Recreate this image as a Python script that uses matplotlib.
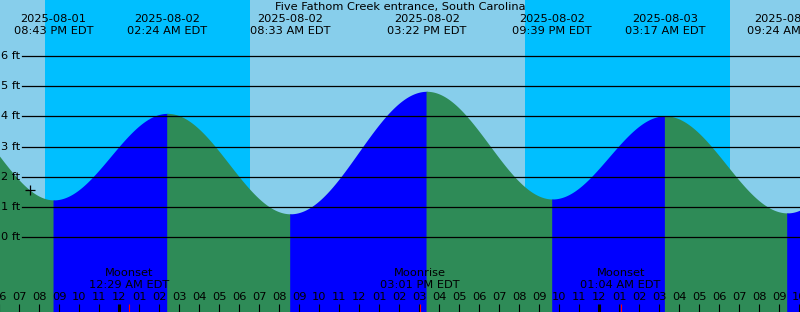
import matplotlib
matplotlib.use('Agg')
import matplotlib.pyplot as plt
import matplotlib.transforms as mtransforms
import numpy as np

# times are hours from 2025-08-02 00:00 EDT, heights in ft
tide_times = [-9.0, -3.283, 2.4, 8.55, 15.367, 21.65, 27.283, 33.4, 39.8]
tide_heights = [4.4, 1.24, 4.1, 0.78, 4.83, 1.27, 4.02, 0.81, 4.7]

event_times = [-3.283, 2.4, 8.55, 15.367, 21.65, 27.283, 33.4]
event_dates = ['2025-08-01', '2025-08-02', '2025-08-02', '2025-08-02',
               '2025-08-02', '2025-08-03', '2025-08-03']
event_clock = ['08:43 PM EDT', '02:24 AM EDT', '08:33 AM EDT', '03:22 PM EDT',
               '09:39 PM EDT', '03:17 AM EDT', '09:24 AM EDT']

# night = sunset -> sunrise
night_start = [-3.72, 20.28]
night_end = [6.53, 30.53]

moon_times = [0.483, 15.017, 25.067]
moon_names = ['Moonset', 'Moonrise', 'Moonset']
moon_clock = ['12:29 AM EDT', '03:01 PM EDT', '01:04 AM EDT']

hour_ticks = list(range(-6, 35))
ft_levels = [0, 1, 2, 3, 4, 5, 6]
now_time, now_height = -4.465, 1.57

title = 'Five Fathom Creek entrance, South Carolina'

W, H = 800, 312
x0, x1 = -5.965, 34.035
y0, y1 = -2.466, 7.848

fig = plt.figure(figsize=(W / 100, H / 100), dpi=100, facecolor='#87CEEB')
ax = fig.add_axes([0, 0, 1, 1])
ax.set_xlim(x0, x1)
ax.set_ylim(y0, y1)
ax.set_axis_off()

for a, b in zip(night_start, night_end):
    ax.axvspan(a, b, color='#00BFFF', lw=0, zorder=0)

# tide curve, half cosine between each high and low
# (each piece overlaps its neighbour by ~1px so no seam shows)
for i in range(len(tide_times) - 1):
    ta, tb = tide_times[i], tide_times[i + 1]
    ha, hb = tide_heights[i], tide_heights[i + 1]
    t = np.linspace(ta - 0.03, tb + 0.03, 300)
    ph = np.clip((t - ta) / (tb - ta), 0, 1)
    h = hb + (ha - hb) * (1 + np.cos(np.pi * ph)) / 2
    col = '#0000FF' if hb > ha else '#2E8B57'
    ax.fill_between(t, y0, h, color=col, lw=0, antialiased=False, zorder=1)

for lv in ft_levels:
    ax.axhline(lv, xmin=22 / W, xmax=1, color='black', lw=0.9, zorder=2)

ylab = mtransforms.blended_transform_factory(fig.transFigure, ax.transData)
for lv in ft_levels:
    ax.text(20 / W, lv, '%d ft' % lv, transform=ylab, ha='right', va='center',
            fontsize=8.2)

ax.plot(now_time, now_height, marker='+', color='black', ms=7, mew=0.9, zorder=3)

pix = mtransforms.blended_transform_factory(ax.transData, fig.transFigure)
fs = 8.2

ax.text(0.5, 1 - 7.3 / H, title, transform=fig.transFigure, ha='center',
        va='center', fontsize=fs)

for t, d, c in zip(event_times, event_dates, event_clock):
    ax.text(t, 1 - 19.3 / H, d, transform=pix, ha='center', va='center', fontsize=fs)
    ax.text(t, 1 - 31.5 / H, c, transform=pix, ha='center', va='center', fontsize=fs)

for t, n, c in zip(moon_times, moon_names, moon_clock):
    ax.text(t, 1 - 272.5 / H, n, transform=pix, ha='center', va='center', fontsize=fs)
    ax.text(t, 1 - 285.5 / H, c, transform=pix, ha='center', va='center', fontsize=fs)

tick_tr = mtransforms.blended_transform_factory(ax.transData, ax.transAxes)
for hr in hour_ticks:
    hod = hr % 24
    lab = '%02d' % (((hod - 1) % 12) + 1)
    ax.text(hr, 1 - 296.5 / H, lab, transform=pix, ha='center', va='center', fontsize=fs)
    lw = 2.2 if hod == 0 else 0.8
    ax.plot([hr, hr], [0, 8 / H], transform=tick_tr, color='black', lw=lw,
            solid_capstyle='butt', zorder=4)

for t in moon_times:
    ax.plot([t, t], [0, 8 / H], transform=tick_tr, color='red', lw=0.8,
            solid_capstyle='butt', zorder=4)

fig.savefig('out.png', dpi=100)
